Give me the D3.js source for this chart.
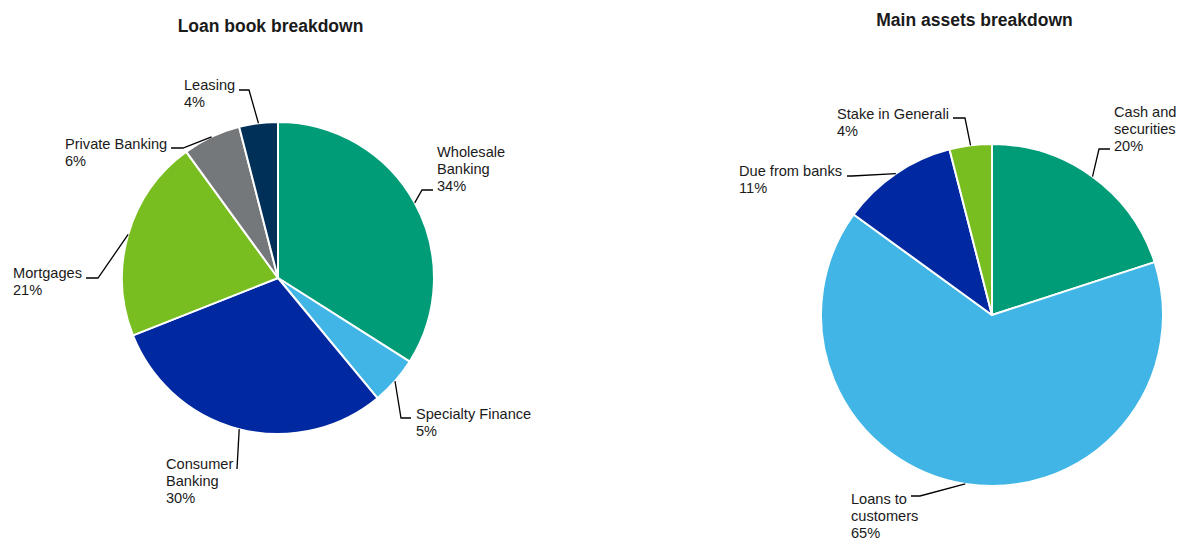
<!DOCTYPE html>
<html><head><meta charset="utf-8">
<script src="https://cdn.jsdelivr.net/npm/d3@7"></script>
<style>body{margin:0;background:#fff}svg{display:block}text{font-family:"Liberation Sans",Arial,sans-serif;fill:#1a1a1a}</style>
</head><body><svg id="c" width="1179" height="538"></svg>
<script>
// ---- data ----
const loanCategories = ["Wholesale Banking","Specialty Finance","Consumer Banking","Mortgages","Private Banking","Leasing"];
const loanValues = [34,5,30,21,6,4];
const loanLabelLines = [["Wholesale","Banking","34%"],["Specialty Finance","5%"],["Consumer","Banking","30%"],["Mortgages","21%"],["Private Banking","6%"],["Leasing","4%"]];
const assetCategories = ["Cash and securities","Loans to customers","Due from banks","Stake in Generali"];
const assetValues = [20,65,11,4];
const assetLabelLines = [["Cash and","securities","20%"],["Loans to","customers","65%"],["Due from banks","11%"],["Stake in Generali","4%"]];
const loanTitle = "Loan book breakdown";
const assetTitle = "Main assets breakdown";

// ---- styles/layout ----
const loanColors = ["#009B77","#41B6E6","#0028A0","#78BE21","#75787B","#003057"];
const assetColors = ["#009B77","#41B6E6","#0028A0","#78BE21"];
// label layout: text x, first baseline, elbow point, end point (relative to chart center)
const loanLayout = [
  {tx:159,ty:-121,elbow:[144,-88],end:[155,-88]},
  {tx:138,ty:141,elbow:[123,140],end:[133,140]},
  {tx:-112,ty:191,elbow:[-41,191],end:[-41,191]},
  {tx:-265,ty:0,elbow:[-180,0],end:[-192,0]},
  {tx:-213,ty:-129,elbow:[-95,-130],end:[-107,-130]},
  {tx:-94,ty:-188,elbow:[-29,-188],end:[-39,-188]}
];
const assetLayout = [
  {tx:122,ty:-198,elbow:[107,-166],end:[118,-166]},
  {tx:-141,ty:189,elbow:[-72,181],end:[-81,181]},
  {tx:-253,ty:-139,elbow:[-140,-139],end:[-145,-139]},
  {tx:-155,ty:-196,elbow:[-27,-197],end:[-39,-197]}
];

const svg = d3.select("#c");

function drawPie(cx, cy, r, cats, vals, colors, lines, layout, title, titleY, titleX){
  const g = svg.append("g").attr("transform",`translate(${cx},${cy})`);
  const pie = d3.pie().sort(null).value(d=>d)(vals);
  const arc = d3.arc().innerRadius(0).outerRadius(r);
  g.selectAll("path.s").data(pie).join("path").attr("class","s")
    .attr("d",arc).attr("fill",(d,i)=>colors[i])
    .attr("stroke","#fff").attr("stroke-width",2).attr("stroke-linejoin","round");
  const edge = d3.arc().innerRadius(r).outerRadius(r);
  pie.forEach((d,i)=>{
    const p = edge.centroid(d);
    const L = layout[i];
    g.append("polyline")
      .attr("points",[p, L.elbow, L.end].map(q=>q.join(",")).join(" "))
      .attr("fill","none").attr("stroke","#000").attr("stroke-width",1.3);
    const t = g.append("text").attr("x",L.tx).attr("y",L.ty).style("font-size","14.6px");
    lines[i].forEach((s,j)=>t.append("tspan").attr("x",L.tx).attr("dy",j?17:0).text(s));
  });
  svg.append("text").attr("x",titleX).attr("y",titleY).attr("text-anchor","middle")
    .style("font-size","17.5px").style("font-weight","bold").text(title);
}

drawPie(278,278,156,loanCategories,loanValues,loanColors,loanLabelLines,loanLayout,loanTitle,31.5,270.5);
drawPie(992,315,171,assetCategories,assetValues,assetColors,assetLabelLines,assetLayout,assetTitle,26,974.5);
</script></body></html>
